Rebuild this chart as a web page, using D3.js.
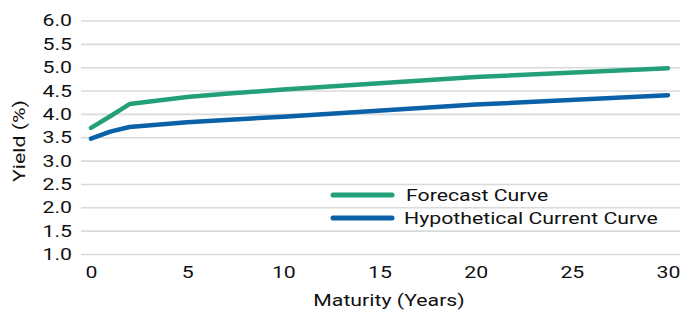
<!DOCTYPE html>
<html>
<head>
<meta charset="utf-8">
<script src="https://cdn.jsdelivr.net/npm/d3@7"></script>
<style>
  body { margin: 0; background: #fff; }
  text { font-family: Roboto, sans-serif; fill: #111; }
</style>
</head>
<body>
<div id="chart"></div>
<script>
const maturities = [0, 1, 2, 5, 7, 10, 20, 30];
const forecastYield = [3.70, 3.95, 4.21, 4.36, 4.43, 4.52, 4.79, 4.98];
const currentYield = [3.47, 3.62, 3.72, 3.82, 3.87, 3.94, 4.20, 4.40];
const yTicks = [1.0, 1.5, 2.0, 2.5, 3.0, 3.5, 4.0, 4.5, 5.0, 5.5, 6.0];
const xTicks = [0, 5, 10, 15, 20, 25, 30];
const seriesNames = ["Forecast Curve", "Hypothetical Current Curve"];
const seriesColors = ["#23a07a", "#0b61a8"];

const width = 683;
const height = 315;
const fontSize = "17px";
// glyphs in the reference are wider than plain Roboto
const stretch = 1.25;

const svg = d3.select("#chart")
              .append("svg")
              .attr("width", width)
              .attr("height", height)

const xScale = d3.scaleLinear()
                 .domain([0, 30])
                 .range([91, 668])

const yScale = d3.scaleLinear()
                 .domain([1, 6])
                 .range([254, 20.5])

// gridlines + y labels
const yAxis = d3.axisLeft(yScale)
                .tickValues(yTicks)
                .tickFormat(d3.format(".1f"))
                .tickSize(-(680 - 81))
                .tickPadding(9)

svg.append("g")
   .attr("transform", "translate(81, 0)")
   .call(yAxis)
   .call(g => g.select(".domain").remove())
   .call(g => g.selectAll("line").attr("stroke", "#d9dadc").attr("stroke-width", 1.6))
   .call(g => g.selectAll("text").style("font-size", fontSize).attr("fill", "#111"))

const xAxis = d3.axisBottom(xScale)
                .tickValues(xTicks)
                .tickSize(0)
                .tickPadding(12)

svg.append("g")
   .attr("transform", "translate(0, 254)")
   .call(xAxis)
   .call(g => g.select(".domain").remove())
   .call(g => g.selectAll("text").style("font-size", fontSize).attr("fill", "#111"))

// axis titles
svg.append("text")
   .attr("x", 389)
   .attr("y", 306)
   .attr("text-anchor", "middle")
   .style("font-size", fontSize)
   .text("Maturity (Years)")

svg.append("text")
   .attr("transform", "translate(25, 141) rotate(-90)")
   .attr("text-anchor", "middle")
   .style("font-size", fontSize)
   .text("Yield (%)")

const line = d3.line()
               .x(d => xScale(d[0]))
               .y(d => yScale(d[1]))

const series = [forecastYield, currentYield];

series.forEach((vals, i) => {
  svg.append("path")
     .datum(maturities.map((m, j) => [m, vals[j]]))
     .attr("fill", "none")
     .attr("stroke", seriesColors[i])
     .attr("stroke-width", 4.5)
     .attr("stroke-linecap", "round")
     .attr("stroke-linejoin", "round")
     .attr("d", line)
})

// legend
const legend = svg.append("g")
const legendY = [195, 218];
const legendTextX = [406, 404];

seriesNames.forEach((name, i) => {
  legend.append("line")
        .attr("x1", 333)
        .attr("x2", 392)
        .attr("y1", legendY[i])
        .attr("y2", legendY[i])
        .attr("stroke", seriesColors[i])
        .attr("stroke-width", 5)
        .attr("stroke-linecap", "round")
  legend.append("text")
        .attr("x", legendTextX[i])
        .attr("y", legendY[i])
        .attr("dy", "0.35em")
        .style("font-size", fontSize)
        .text(name)
})

// widen every label along its reading direction
svg.selectAll("text").each(function() {
  const len = this.getComputedTextLength();
  d3.select(this)
    .attr("textLength", len * stretch)
    .attr("lengthAdjust", "spacingAndGlyphs")
})
</script>
</body>
</html>
